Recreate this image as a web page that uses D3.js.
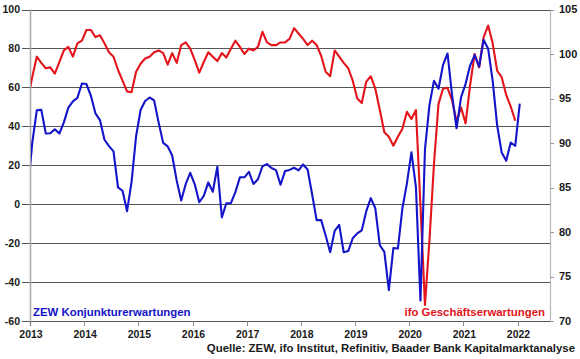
<!DOCTYPE html>
<html>
<head>
<meta charset="utf-8">
<script src="https://cdn.jsdelivr.net/npm/d3@7/dist/d3.min.js"></script>
<style>
  html, body { margin: 0; padding: 0; background: #fff; }
  svg { display: block; font-family: "Liberation Sans", Arial, sans-serif; }
</style>
</head>
<body>
<svg id="chart" width="580" height="359"></svg>
<script>
// ---- data (monthly, first value = Dec 2012) ----
const startYear = 2012, startMonth = 12;
const zew = [6.9,
  31.5, 48.2, 48.5, 36.3, 36.4, 38.5, 36.3, 42.0, 49.6, 52.8, 54.6, 62.0,
  61.7, 55.7, 46.6, 43.2, 33.1, 29.8, 27.1, 8.6, 6.9, -3.6, 11.5, 34.9,
  48.4, 53.0, 54.8, 53.3, 41.9, 31.5, 29.7, 25.0, 12.1, 1.9, 10.4, 16.1,
  10.2, 1.0, 4.3, 11.2, 6.4, 19.2, -6.8, 0.5, 0.5, 6.2, 13.8, 13.8,
  16.6, 10.4, 12.8, 19.5, 20.6, 18.6, 17.5, 10.0, 17.0, 17.6, 18.7, 17.4,
  20.4, 17.8, 5.1, -8.2, -8.2, -16.1, -24.7, -13.7, -10.6, -24.7, -24.1, -17.5,
  -15.0, -13.4, -3.6, 3.1, -2.1, -21.1, -24.5, -44.1, -22.5, -22.8, -2.1, 10.7,
  26.7, 8.7, -49.5, 28.2, 51.0, 63.4, 59.3, 71.5, 77.4, 56.1, 39.0, 55.0,
  61.8, 71.2, 76.6, 70.7, 84.4, 79.8, 63.3, 40.4, 26.5, 22.3, 31.7, 29.9,
  51.7];
const ifo = [94.9,
  97.4, 99.7, 99.0, 98.4, 98.5, 97.8, 99.1, 100.4, 100.8, 99.7, 101.2, 101.5,
  102.7, 102.7, 101.9, 102.1, 101.2, 100.2, 99.7, 98.2, 97.0, 95.8, 95.7, 98.0,
  98.9, 99.5, 99.7, 100.2, 100.4, 100.1, 98.8, 100.1, 99.0, 101.0, 101.3, 100.6,
  99.3, 97.9, 99.1, 100.2, 99.7, 99.2, 100.1, 99.6, 100.6, 101.5, 100.8, 100.0,
  100.6, 100.4, 100.8, 102.5, 101.3, 101.0, 101.0, 101.3, 101.3, 101.7, 102.9, 102.3,
  101.7, 101.0, 101.5, 101.0, 99.8, 98.0, 97.5, 100.4, 99.7, 99.0, 98.4, 97.0,
  95.0, 94.5, 96.9, 97.5, 96.1, 93.7, 91.2, 90.7, 89.7, 90.7, 91.6, 93.5,
  92.7, 93.7, 83.0, 71.8, 79.1, 87.7, 94.4, 96.1, 96.2, 94.8, 92.4, 94.0,
  92.2, 96.5, 100.0, 98.5, 101.9, 103.2, 101.2, 98.1, 97.4, 95.4, 94.1, 92.5];
const yearTicks = [2013, 2014, 2015, 2016, 2017, 2018, 2019, 2020, 2021, 2022];
const leftTicks = [-60, -40, -20, 0, 20, 40, 60, 80, 100];
const rightTicks = [70, 75, 80, 85, 90, 95, 100, 105];
const zewLabel = "ZEW Konjunkturerwartungen";
const ifoLabel = "ifo Geschäftserwartungen";
const sourceLabel = "Quelle: ZEW, ifo Institut, Refinitiv, Baader Bank Kapitalmarktanalyse";

// ---- layout ----
const L = 30, R = 550, T = 9.5, B = 321;
const svg = d3.select("#chart");

const x = d3.scaleLinear().domain([2013, 2022.6]).range([L, R]);
const yL = d3.scaleLinear().domain([-60, 100]).range([B, T]);
const yR = d3.scaleLinear().domain([70, 105]).range([B, T]);

// month index -> fractional year (mid-month)
const tOf = i => startYear + (startMonth - 1 + i + 0.5) / 12;

const RED = "#e3141c", BLUE = "#1414c8", TXT = "#1a1a1a";

// gridlines + left ticks
svg.append("g").selectAll("line").data(leftTicks).join("line")
  .attr("x1", L - 8).attr("x2", R)
  .attr("y1", d => Math.round(yL(d)) + 0.5).attr("y2", d => Math.round(yL(d)) + 0.5)
  .attr("stroke", "#555").attr("stroke-width", 1);

// left axis line
svg.append("line").attr("x1", L + 0.5).attr("x2", L + 0.5).attr("y1", T).attr("y2", B + 5)
  .attr("stroke", "#a8a8a8").attr("stroke-width", 1.5);
// right axis line
svg.append("line").attr("x1", R + 0.5).attr("x2", R + 0.5).attr("y1", T).attr("y2", B)
  .attr("stroke", "#b8b8b8").attr("stroke-width", 1.2);

// left labels
svg.append("g").selectAll("text").data(leftTicks).join("text")
  .attr("x", 20).attr("y", d => yL(d)).attr("dy", "0.35em")
  .attr("text-anchor", "end").attr("font-size", 10.5).attr("font-weight", "bold")
  .attr("fill", TXT).text(d => d);

// right ticks + labels
svg.append("g").selectAll("line").data(rightTicks).join("line")
  .attr("x1", R).attr("x2", R + 4)
  .attr("y1", d => Math.round(yR(d)) + 0.5).attr("y2", d => Math.round(yR(d)) + 0.5)
  .attr("stroke", "#999");
svg.append("g").selectAll("text").data(rightTicks).join("text")
  .attr("x", 559).attr("y", d => yR(d)).attr("dy", "0.35em")
  .attr("text-anchor", "start").attr("font-size", 11).attr("font-weight", "bold")
  .attr("fill", TXT).text(d => d);

// bottom ticks + labels
svg.append("g").selectAll("line").data(yearTicks).join("line")
  .attr("x1", d => Math.round(x(d)) + 0.5).attr("x2", d => Math.round(x(d)) + 0.5)
  .attr("y1", B).attr("y2", B + 5).attr("stroke", "#888");
svg.append("g").selectAll("text").data(yearTicks).join("text")
  .attr("x", d => x(d) + 1).attr("y", 338)
  .attr("text-anchor", "middle").attr("font-size", 10.5).attr("font-weight", "bold")
  .attr("fill", TXT).text(d => d);

// clip
svg.append("clipPath").attr("id", "clip").append("rect")
  .attr("x", L + 1).attr("y", 0).attr("width", R - L - 1).attr("height", B + 5);

const lineL = d3.line().x((d, i) => x(tOf(i))).y(d => yL(d));
const lineR = d3.line().x((d, i) => x(tOf(i))).y(d => yR(d));

const g = svg.append("g").attr("clip-path", "url(#clip)");
g.append("path").datum(ifo).attr("d", lineR)
  .attr("fill", "none").attr("stroke", RED).attr("stroke-width", 2.1)
  .attr("stroke-linejoin", "round");
g.append("path").datum(zew).attr("d", lineL)
  .attr("fill", "none").attr("stroke", BLUE).attr("stroke-width", 2.1)
  .attr("stroke-linejoin", "round");

// series labels
svg.append("text").attr("x", 33).attr("y", 316)
  .attr("font-size", 11.4).attr("font-weight", "bold").attr("fill", BLUE).text(zewLabel);
svg.append("text").attr("x", 545).attr("y", 316).attr("text-anchor", "end")
  .attr("font-size", 11.4).attr("font-weight", "bold").attr("fill", RED).text(ifoLabel);

// source
svg.append("text").attr("x", 575).attr("y", 352).attr("text-anchor", "end")
  .attr("font-size", 11.4).attr("font-weight", "bold").attr("fill", TXT).text(sourceLabel);
</script>
</body>
</html>
